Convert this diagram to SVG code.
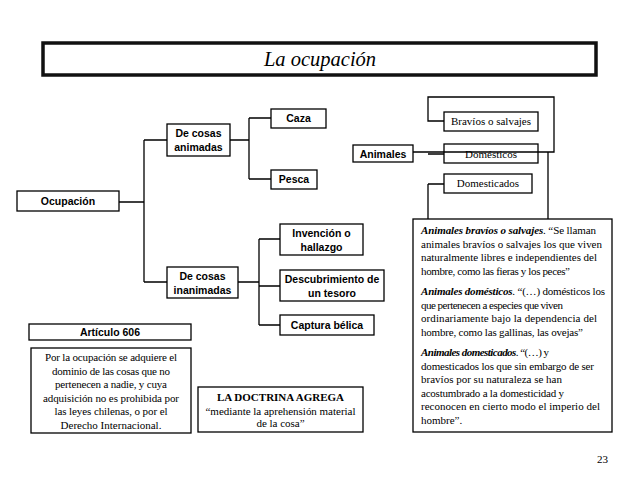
<svg xmlns="http://www.w3.org/2000/svg" width="638" height="479" viewBox="0 0 638 479">
<style>
.box{fill:#fff;stroke:#000;stroke-width:1.3}
.tbox{fill:none;stroke:#000;stroke-width:1.3}
.ln{fill:none;stroke:#000;stroke-width:1.3}
.sb{font-family:"Liberation Sans",Arial,sans-serif;font-weight:bold;font-size:10.5px;fill:#000;text-anchor:middle}
.tr{font-family:"Liberation Serif","Times New Roman",serif;font-size:11px;fill:#000}
.c{text-anchor:middle}
.bi{font-weight:bold;font-style:italic}
</style>
<rect width="638" height="479" fill="#fff"/>
<g id="title">
<rect x="43" y="43" width="553" height="32" fill="#fff" stroke="#111" stroke-width="3.5"/>
<text x="320" y="66" font-family="Liberation Serif,'Times New Roman',serif" font-style="italic" font-size="20.5" text-anchor="middle">La ocupación</text>
</g>
<g id="connectors">
<path class="ln" d="M119 202H144M144 140V282M144 140H167M144 282H167"/>
<path class="ln" d="M230 140H249M249 118V179M249 118H271M249 179H271"/>
<path class="ln" d="M238 282H259M259 239V325M259 239H280M259 286H280M259 325H280"/>
<path class="ln" d="M413 152H554V97H428V121H444M428 154H444M428 184H444M428 184V219M548 152V219"/>
</g>
<g id="ocupacion"><rect class="box" x="17" y="191" width="102" height="20"/><text class="sb" x="68" y="205">Ocupación</text></g>
<g id="animadas"><rect class="box" x="167" y="124" width="63" height="32"/><text class="sb" x="198.5" y="137">De cosas</text><text class="sb" x="198.5" y="151">animadas</text></g>
<g id="caza"><rect class="box" x="271" y="109" width="55" height="19"/><text class="sb" x="298.5" y="122">Caza</text></g>
<g id="pesca"><rect class="box" x="271" y="170" width="46" height="19"/><text class="sb" x="294" y="183">Pesca</text></g>
<g id="inanimadas"><rect class="box" x="167" y="267" width="71" height="31"/><text class="sb" x="202.5" y="280">De cosas</text><text class="sb" x="202.5" y="294">inanimadas</text></g>
<g id="invencion"><rect class="box" x="280" y="224" width="83" height="31"/><text class="sb" x="321.5" y="237">Invención o</text><text class="sb" x="321.5" y="251">hallazgo</text></g>
<g id="descubrimiento"><rect class="box" x="280" y="270" width="104" height="31"/><text class="sb" x="332" y="283">Descubrimiento de</text><text class="sb" x="332" y="297">un tesoro</text></g>
<g id="captura"><rect class="box" x="280" y="315" width="94" height="20"/><text class="sb" x="327" y="329">Captura bélica</text></g>
<g id="animales"><rect class="box" x="353" y="145" width="60" height="17"/><text class="sb" x="383" y="157.5">Animales</text></g>
<g id="bravios"><rect class="box" x="444" y="112" width="94" height="19"/><text class="tr c" x="491" y="125">Bravíos o salvajes</text></g>
<g id="domesticos"><rect class="tbox" x="444" y="144" width="94" height="19"/><text class="tr c" x="491" y="158">Domésticos</text></g>
<g id="domesticados"><rect class="box" x="444" y="174" width="88" height="19"/><text class="tr c" x="488" y="187">Domesticados</text></g>
<g id="definiciones">
<rect class="box" x="413" y="219" width="199" height="213"/>
<text class="tr" x="421" y="234" textLength="175" lengthAdjust="spacing"><tspan class="bi">Animales bravíos o salvajes</tspan>. “Se llaman</text>
<text class="tr" x="421" y="247.6" textLength="181" lengthAdjust="spacing">animales bravíos o salvajes los que viven</text>
<text class="tr" x="421" y="261.2" textLength="176" lengthAdjust="spacing">naturalmente libres e independientes del</text>
<text class="tr" x="421" y="274.8" textLength="149" lengthAdjust="spacing">hombre, como las fieras y los peces”</text>
<text class="tr" x="421" y="295" textLength="184" lengthAdjust="spacing"><tspan class="bi">Animales domésticos</tspan>. “(…) domésticos los</text>
<text class="tr" x="421" y="308.6" textLength="142" lengthAdjust="spacing">que pertenecen a especies que viven</text>
<text class="tr" x="421" y="322.2" textLength="176" lengthAdjust="spacing">ordinariamente bajo la dependencia del</text>
<text class="tr" x="421" y="335.8" textLength="162" lengthAdjust="spacing">hombre, como las gallinas, las ovejas”</text>
<text class="tr" x="421" y="356" textLength="128" lengthAdjust="spacing"><tspan class="bi">Animales domesticados</tspan>. “(…) y</text>
<text class="tr" x="421" y="369.6" textLength="173" lengthAdjust="spacing">domesticados los que sin embargo de ser</text>
<text class="tr" x="421" y="383.2" textLength="141" lengthAdjust="spacing">bravíos por su naturaleza se han</text>
<text class="tr" x="421" y="396.8" textLength="143" lengthAdjust="spacing">acostumbrado a la domesticidad y</text>
<text class="tr" x="421" y="410.4" textLength="179" lengthAdjust="spacing">reconocen en cierto modo el imperio del</text>
<text class="tr" x="421" y="424">hombre”.</text>
</g>
<g id="articulo"><rect class="box" x="29" y="324" width="162" height="16"/><text class="sb" x="110" y="336">Artículo 606</text></g>
<g id="articulo-texto">
<rect class="box" x="31" y="348" width="160" height="85"/>
<text class="tr c" x="111" y="361" textLength="132" lengthAdjust="spacing">Por la ocupación se adquiere el</text>
<text class="tr c" x="111" y="374.5" textLength="118" lengthAdjust="spacing">dominio de las cosas que no</text>
<text class="tr c" x="111" y="388" textLength="112" lengthAdjust="spacing">pertenecen a nadie, y cuya</text>
<text class="tr c" x="111" y="401.5" textLength="136" lengthAdjust="spacing">adquisición no es prohibida por</text>
<text class="tr c" x="111" y="415" textLength="113" lengthAdjust="spacing">las leyes chilenas, o por el</text>
<text class="tr c" x="111" y="428.5">Derecho Internacional.</text>
</g>
<g id="doctrina">
<rect class="box" x="198" y="387" width="165" height="45"/>
<text class="tr c" x="280.5" y="401" font-weight="bold">LA DOCTRINA AGREGA</text>
<text class="tr c" x="280.5" y="415" textLength="150" lengthAdjust="spacing">“mediante la aprehensión material</text>
<text class="tr c" x="280.5" y="427">de la cosa”</text>
</g>
<text class="tr" x="597" y="463" font-size="11">23</text>
</svg>
